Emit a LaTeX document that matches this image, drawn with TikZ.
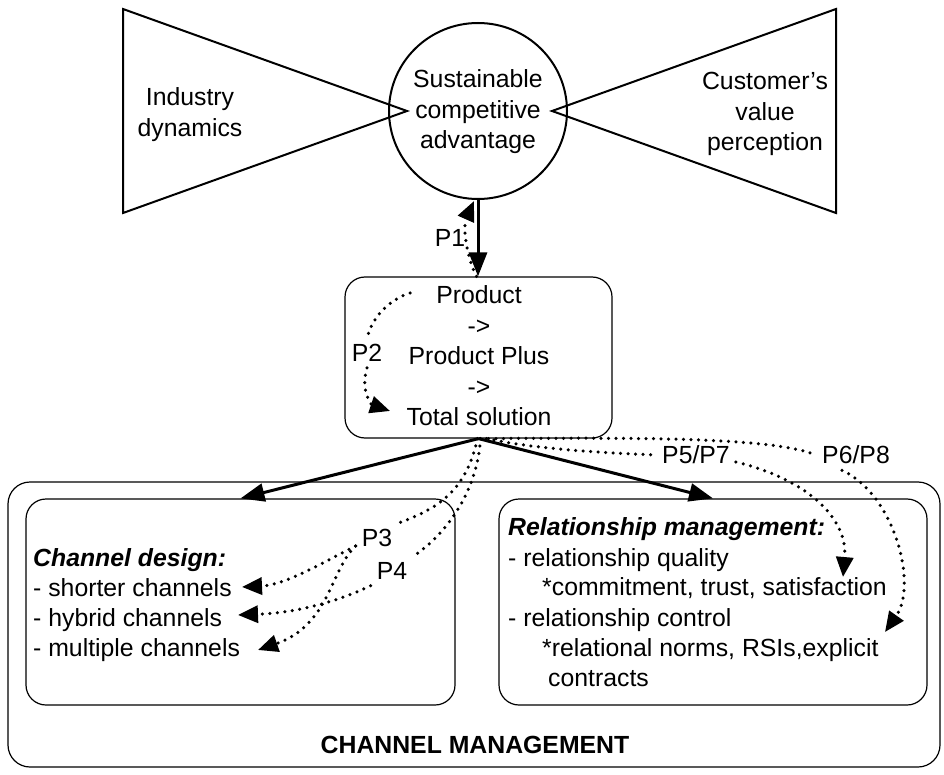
\documentclass[tikz,border=0pt]{standalone}
\usepackage{fontspec}
\setmainfont{Liberation Sans}
\usetikzlibrary{arrows.meta,shapes.geometric}
\begin{document}
\begin{tikzpicture}[x=1pt,y=-1pt,
  every node/.style={font=\fontsize{24.8}{30.5}\selectfont, inner sep=0pt},
  tri/.style={line width=2pt, line join=miter},
  rbox/.style={draw, rounded corners=20pt, line width=1.2pt, inner sep=0pt},
  solidarr/.style={line width=3pt, -{Triangle[length=24pt,width=18pt]}},
  dotl/.style={line width=3.5pt, line cap=round, dash pattern=on 0pt off 7.5pt},
  dotarr/.style={dotl, -{Triangle[length=20pt,width=17pt]}},
  lbl/.style={inner sep=6pt},
  txt/.style={anchor=base west},
]
\useasboundingbox (0,0) rectangle (944,775);

% top: triangles and circle
\draw[tri] (123,9) -- (407,111) -- (123,213) -- cycle;
\draw[tri] (836,9) -- (552,111) -- (836,213) -- cycle;
\node[draw, ellipse, line width=2pt, minimum width=178pt, minimum height=176pt, align=center] (sca) at (478,111) {};
\node[align=center] (scatxt) at (478,112) {Sustainable\\competitive\\advantage};
\node[align=center] (ind) at (190,114.5) {Industry\\dynamics};
\node[align=center] (cust) at (765,114) {Customer's\\value\\perception};

% product box
\node[rbox, minimum width=267pt, minimum height=161pt] (prod) at (478.5,357.5) {};
\node[align=center] (prodtxt) at (479,356) {Product\\->\\Product Plus\\->\\Total solution};

% channel management boxes
\node[rbox, rounded corners=22pt, minimum width=932pt, minimum height=285pt] (cm) at (474,624.5) {};
\node[rbox, minimum width=429pt, minimum height=206pt] (cd) at (240.5,602) {};
\node[rbox, minimum width=428pt, minimum height=206pt] (rm) at (713,602) {};
\node[font=\fontsize{24.8}{30.5}\selectfont\bfseries] (cmt) at (475,745) {CHANNEL MANAGEMENT};

% left box text
\node[txt] (cd0) at (33,566) {\bfseries\itshape Channel design:};
\node[txt] (cd1) at (33,596) {- shorter channels};
\node[txt] (cd2) at (33,626) {- hybrid channels};
\node[txt] (cd3) at (33,656) {- multiple channels};

% right box text
\node[txt] (rm0) at (508,535) {\bfseries\itshape Relationship management:};
\node[txt] (rm1) at (508,566) {- relationship quality};
\node[txt] (rm2) at (542,595) {*commitment, trust, satisfaction};
\node[txt] (rm3) at (508,626) {- relationship control};
\node[txt] (rm4) at (542,656) {*relational norms, RSIs,explicit};
\node[txt] (rm5) at (548,686) {contracts};

% labels
\node[lbl] (p1) at (450,238) {P1};
\node[lbl] (p2) at (367,353) {P2};
\node[lbl] (p3) at (377,538) {P3};
\node[lbl] (p4) at (392,571) {P4};
\node[lbl] (p57) at (696,455) {P5/P7};
\node[lbl] (p68) at (856,455) {P6/P8};

% named free ends
\coordinate (p2s) at (410,293);
\coordinate (p2e) at (390,411);
\coordinate (t3a) at (242,587);
\coordinate (t3b) at (258,650);
\coordinate (t4) at (238,615);
\coordinate (t57) at (843,577);
\coordinate (t68) at (885,632);

% solid arrows
\draw[solidarr] (sca.south) -- (sca.south |- prod.north);
\draw[solidarr] (prod.south) -- (cd.north);
\draw[solidarr] (prod.south) -- (rm.north);

% P1
\draw[dotarr] ([xshift=-2pt]prod.north) .. controls (468,260) and (462,228) .. ([xshift=-4pt,yshift=-1pt]sca.south);
% P2
\draw[dotl] (p2s) .. controls (388,300) and (372,318) .. (p2.north);
\draw[dotarr] (p2.south) .. controls (360,392) and (372,405) .. (p2e);
% P3
\draw[dotl] ([xshift=-1pt]prod.south) .. controls (466,490) and (440,508) .. (p3.north east);
\draw[dotarr] ([yshift=-8pt]p3.west) .. controls (318,565) and (285,585) .. (t3a);
\draw[dotarr] ([yshift=-8pt]p3.west) .. controls (330,570) and (330,625) .. (t3b);
% P4
\draw[dotl] ([xshift=2pt]prod.south) .. controls (478,485) and (452,530) .. (p4.north east);
\draw[dotarr] (p4.south west) .. controls (330,605) and (290,613) .. (t4);
% P5/P7
\draw[dotl] ([xshift=8pt]prod.south) .. controls (540,450) and (610,453) .. (p57.west);
\draw[dotarr] ([yshift=-7pt]p57.east) .. controls (810,480) and (848,520) .. (t57);
% P6/P8
\draw[dotl] ([xshift=10pt]prod.south) .. controls (620,438) and (770,436) .. (p68.west);
\draw[dotarr] ([xshift=-14pt]p68.south) .. controls (895,495) and (918,585) .. (t68);
\end{tikzpicture}
\end{document}
